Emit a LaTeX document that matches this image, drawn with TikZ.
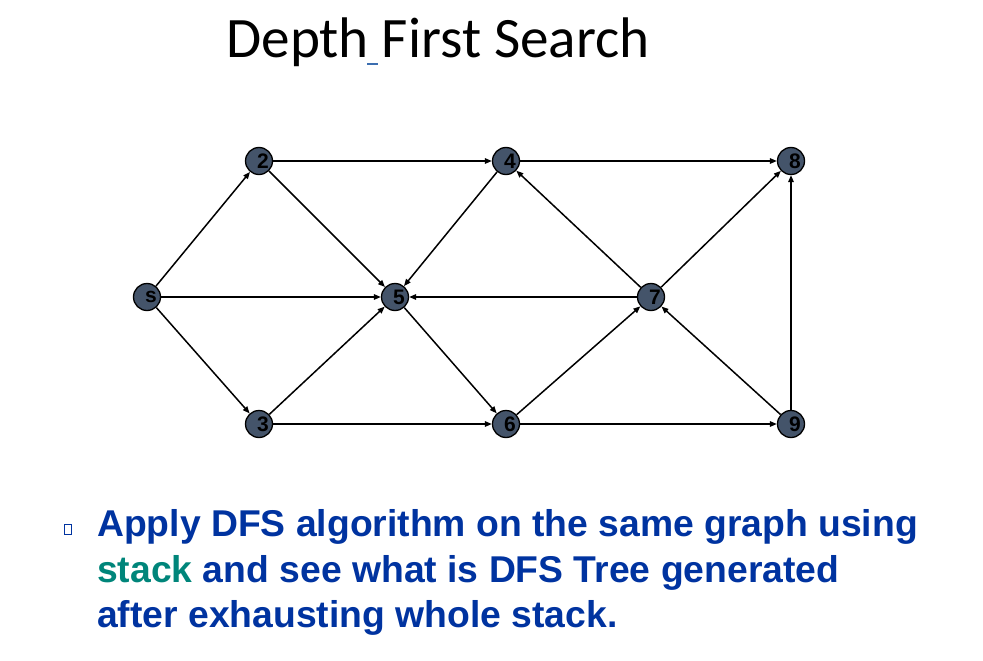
\documentclass[tikz,border=0pt]{standalone}
\usepackage{fontspec}
\setmainfont{Carlito}
\newfontfamily\arialfont{Liberation Sans}
\usetikzlibrary{positioning, arrows.meta}
\definecolor{vertexfill}{HTML}{44546A}
\definecolor{slideblue}{HTML}{0033A0}
\definecolor{slideteal}{HTML}{00857A}
\definecolor{markblue}{HTML}{3C6EB0}
\tikzset{
  vlabel/.style = {inner sep=0pt, xshift=4pt, text=black, font=\arialfont\bfseries\fontsize{21}{21}\selectfont},
  vertex/.style = {circle, draw=black, line width=1.3pt, fill=vertexfill, minimum size=27pt, inner sep=0pt,
                   label={[vlabel]center:#1}},
  edge/.style   = {-{Triangle[length=7pt, width=5.5pt]}, line width=1.5pt},
  bodytext/.style = {anchor=base west, inner sep=0pt, text=slideblue, font=\arialfont\bfseries\fontsize{37.3}{37.3}\selectfont}
}
\begin{document}
\begin{tikzpicture}[x=1pt, y=-1pt]
  \useasboundingbox (0,0) rectangle (983,661);

  % title
  \node[anchor=base, inner sep=0pt, font=\fontsize{57.2}{57.2}\selectfont] (title) at (438,58) {Depth First Search};
  \draw[markblue, line width=2pt] (367,64) -- (378,64);

  % vertices
  \node[vertex=s] (s) at (147,297) {};
  \node[vertex=2] (v2) at (259,161) {};
  \node[vertex=3] (v3) at (259,424) {};
  \node[vertex=4] (v4) at (506,161) {};
  \node[vertex=5] (v5) at (395,297) {};
  \node[vertex=6] (v6) at (506,424) {};
  \node[vertex=7] (v7) at (651,297) {};
  \node[vertex=8] (v8) at (791,161) {};
  \node[vertex=9] (v9) at (791,424) {};

  % edges
  \draw[edge] (s) -- (v2);
  \draw[edge] (s) -- (v5);
  \draw[edge] (s) -- (v3);
  \draw[edge] (v2) -- (v4);
  \draw[edge] (v2) -- (v5);
  \draw[edge] (v3) -- (v5);
  \draw[edge] (v3) -- (v6);
  \draw[edge] (v4) -- (v8);
  \draw[edge] (v4) -- (v5);
  \draw[edge] (v5) -- (v6);
  \draw[edge] (v6) -- (v7);
  \draw[edge] (v6) -- (v9);
  \draw[edge] (v7) -- (v4);
  \draw[edge] (v7) -- (v8);
  \draw[edge] (v7) -- (v5);
  \draw[edge] (v9) -- (v7);
  \draw[edge] (v9) -- (v8);

  % bullet text
  \node[draw=slideblue, line width=0.8pt, minimum width=7pt, minimum height=10pt, inner sep=0pt] (bullet) at (68,529) {};
  \node[bodytext] (line1) at (97,536) {Apply DFS algorithm on the same graph using};
  \node[bodytext] (line2) at (97,582) {\textcolor{slideteal}{stack} and see what is DFS Tree generated};
  \node[bodytext] (line3) at (97,627) {after exhausting whole stack.};
\end{tikzpicture}
\end{document}
